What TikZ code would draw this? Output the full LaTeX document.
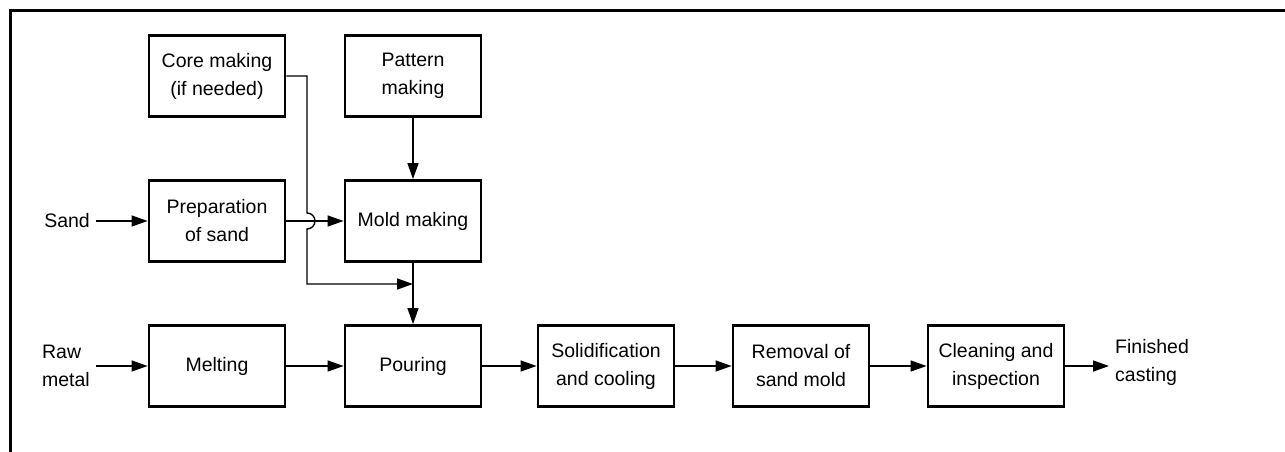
\documentclass[tikz,border=0pt]{standalone}
\usepackage{fontspec}
\setmainfont{Liberation Sans}
\usetikzlibrary{arrows.meta}
\begin{document}
\begin{tikzpicture}[x=1pt,y=1pt,
  every node/.style={font=\fontsize{19.5}{28}\selectfont},
  stepbox/.style={draw, line width=2.8pt, minimum width=136pt, minimum height=81pt, align=center, inner sep=0pt},
  lbl/.style={inner xsep=6pt, inner ysep=0pt},
  conn/.style={line width=1.4pt, -{Triangle[length=16pt,width=11pt]}},
  plain/.style={line width=1.4pt}]
\useasboundingbox (0,0) rectangle (1285,-452);
\draw[line width=3pt] (10,-452) -- (10,-11) -- (1285,-11);
% boxes
\node[stepbox] (core) at (217,-76) {Core making\\(if needed)};
\node[stepbox] (pattern) at (413,-76) {Pattern\\making};
\node[stepbox] (prep) at (217,-221) {Preparation\\of sand};
\node[stepbox] (mold) at (413,-221) {Mold making};
\node[stepbox] (melt) at (217,-366) {Melting};
\node[stepbox] (pour) at (413,-366) {Pouring};
\node[stepbox] (solid) at (606,-366) {Solidification\\and cooling};
\node[stepbox] (remove) at (801,-366) {Removal of\\sand mold};
\node[stepbox] (clean) at (996,-366) {Cleaning and\\inspection};
% labels
\node[lbl, anchor=east] (sand) at (96,-221) {Sand};
\node[lbl, anchor=east, align=left] (raw) at (96,-366) {Raw\\metal};
\node[lbl, anchor=west, align=left] (fin) at (1109,-362) {Finished\\casting};
% connectors
\draw[conn] (sand) -- (prep);
\draw[conn] (raw.east |- melt) -- (melt);
\draw[conn] (prep) -- (mold);
\draw[conn] (pattern) -- (mold);
\draw[conn] (mold) -- (pour);
\draw[conn] (melt) -- (pour);
\draw[conn] (pour) -- (solid);
\draw[conn] (solid) -- (remove);
\draw[conn] (remove) -- (clean);
\draw[conn] (clean) -- (clean -| fin.west);
\coordinate (j) at (413,-284);
\draw[conn] (core.east) -- (307,-76) -- (307,-213) arc[start angle=90, end angle=-90, radius=8] -- (307,-284) -- (j);
\end{tikzpicture}
\end{document}
